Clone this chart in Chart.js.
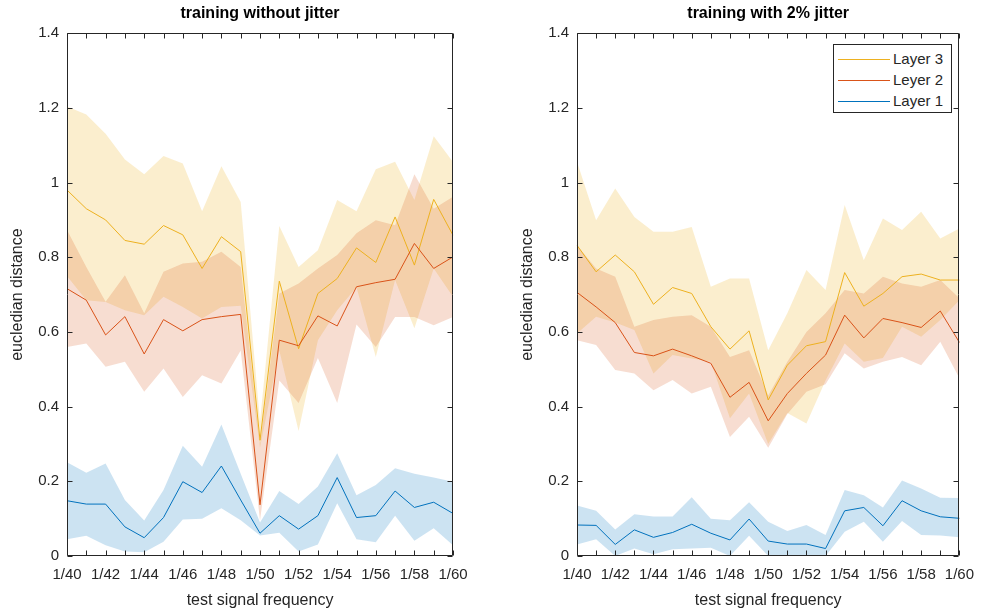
<!DOCTYPE html>
<html>
<head>
<meta charset="utf-8">
<script src="https://cdn.jsdelivr.net/npm/chart.js@4.4.1/dist/chart.umd.min.js"></script>
<style>
  body { margin: 0; background: #fff; width: 984px; height: 614px; overflow: hidden; position: relative; font-family: 'Liberation Sans', Arial, sans-serif; }
  canvas { position: absolute; top: 0; }
  #c1 { left: 0; }
  #c2 { left: 492px; }
  #legend { position: absolute; left: 833px; top: 44px; width: 117px; height: 67px; border: 1px solid #262626; background: #fff; }
  .row { position: absolute; left: 0; height: 20px; font-size: 15px; color: #262626; line-height: 20px; }
  .row span.ln { position: absolute; left: 4px; top: 10px; width: 52px; height: 0; border-top: 1px solid; }
  .row span.tx { position: absolute; left: 59px; top: 0; white-space: nowrap; }
</style>
</head>
<body>
<canvas id="c1" width="492" height="614"></canvas>
<canvas id="c2" width="492" height="614"></canvas>
<div id="legend">
  <div class="row" style="top:4px"><span class="ln" style="border-color:#EDB120"></span><span class="tx">Layer 3</span></div>
  <div class="row" style="top:25px"><span class="ln" style="border-color:#D95319"></span><span class="tx">Leyer 2</span></div>
  <div class="row" style="top:46px"><span class="ln" style="border-color:#0072BD"></span><span class="tx">Layer 1</span></div>
</div>
<script>
// test signal frequencies 1/40 .. 1/60
const freqLabels = ['1/40','1/41','1/42','1/43','1/44','1/45','1/46','1/47','1/48','1/49','1/50',
                    '1/51','1/52','1/53','1/54','1/55','1/56','1/57','1/58','1/59','1/60'];
const yTicks = [0, 0.2, 0.4, 0.6, 0.8, 1, 1.2, 1.4];

// training without jitter
const noJit3 = [0.98,0.93,0.90,0.845,0.835,0.885,0.86,0.77,0.855,0.815,0.31,0.736,0.555,0.703,0.743,0.825,0.786,0.908,0.779,0.955,0.859];
const noJit3Hi = [1.204,1.182,1.131,1.062,1.022,1.071,1.051,0.923,1.044,0.948,0.36,0.884,0.774,0.819,0.953,0.923,1.036,1.056,0.953,1.124,1.055];
const noJit3Lo = [0.75,0.685,0.68,0.658,0.645,0.694,0.667,0.636,0.667,0.67,0.29,0.55,0.335,0.578,0.658,0.72,0.533,0.739,0.61,0.77,0.694];
const noJit2 = [0.716,0.685,0.592,0.641,0.541,0.633,0.603,0.633,0.641,0.647,0.137,0.578,0.563,0.643,0.616,0.721,0.732,0.741,0.837,0.77,0.801];
const noJit2Hi = [0.873,0.774,0.681,0.752,0.650,0.761,0.783,0.788,0.815,0.774,0.30,0.703,0.73,0.77,0.806,0.864,0.899,0.886,1.022,0.93,0.962];
const noJit2Lo = [0.56,0.569,0.507,0.52,0.44,0.502,0.426,0.484,0.462,0.55,0.096,0.47,0.41,0.53,0.41,0.62,0.56,0.64,0.64,0.618,0.64];
const noJit1 = [0.148,0.139,0.139,0.078,0.049,0.103,0.199,0.17,0.241,0.15,0.061,0.108,0.072,0.108,0.21,0.103,0.108,0.174,0.13,0.144,0.114];
const noJit1Hi = [0.251,0.223,0.248,0.15,0.095,0.177,0.295,0.239,0.352,0.22,0.09,0.174,0.139,0.186,0.275,0.163,0.19,0.235,0.22,0.21,0.199];
const noJit1Lo = [0.045,0.054,0.029,0.012,0.01,0.038,0.098,0.1,0.128,0.096,0.055,0.062,0.012,0.031,0.141,0.045,0.037,0.108,0.041,0.074,0.029];

// training with 2% jitter
const jit3 = [0.832,0.761,0.806,0.761,0.674,0.719,0.703,0.614,0.554,0.603,0.418,0.511,0.563,0.574,0.759,0.669,0.703,0.748,0.755,0.739,0.739];
const jit3Hi = [1.056,0.899,0.984,0.908,0.868,0.868,0.881,0.721,0.743,0.743,0.551,0.65,0.766,0.712,0.94,0.792,0.904,0.873,0.922,0.85,0.877];
const jit3Lo = [0.596,0.641,0.625,0.605,0.489,0.538,0.529,0.52,0.369,0.435,0.30,0.383,0.355,0.47,0.569,0.52,0.53,0.614,0.587,0.632,0.685];
const jit2 = [0.706,0.667,0.625,0.545,0.536,0.554,0.536,0.516,0.425,0.465,0.362,0.435,0.489,0.538,0.645,0.584,0.636,0.625,0.612,0.656,0.572];
const jit2Hi = [0.832,0.77,0.748,0.614,0.632,0.641,0.645,0.614,0.533,0.551,0.43,0.52,0.60,0.65,0.712,0.703,0.748,0.73,0.721,0.739,0.69];
const jit2Lo = [0.578,0.565,0.498,0.489,0.444,0.471,0.435,0.453,0.319,0.373,0.29,0.38,0.44,0.46,0.543,0.502,0.52,0.533,0.511,0.574,0.476];
const jit1 = [0.083,0.082,0.031,0.07,0.05,0.063,0.085,0.061,0.043,0.099,0.04,0.032,0.032,0.02,0.121,0.13,0.081,0.148,0.121,0.105,0.101];
const jit1Hi = [0.135,0.121,0.071,0.112,0.106,0.106,0.157,0.10,0.096,0.144,0.092,0.067,0.083,0.056,0.177,0.163,0.13,0.202,0.181,0.156,0.155];
const jit1Lo = [0.031,0.045,0,0.02,0.005,0.018,0.02,0.022,0,0.054,0,0,0,0,0.065,0.092,0.038,0.094,0.056,0.055,0.05];

const axisColor = '#262626';
const fontFam = "'Liberation Sans', Arial, sans-serif";

// matlab style: box round the axes, ticks pointing inwards
const boxTicks = {
  id: 'boxTicks',
  afterDraw(chart) {
    const { ctx, chartArea: a, scales: { x, y } } = chart;
    const L = Math.round(a.left) + 0.5, R = Math.round(a.right) - 0.5;
    const T = Math.round(a.top) + 0.5, B = Math.round(a.bottom) - 0.5;
    ctx.save();
    ctx.strokeStyle = axisColor;
    ctx.lineWidth = 1;
    ctx.beginPath();
    x.ticks.forEach((t, i) => {
      const px = Math.round(x.getPixelForTick(i)) + 0.5;
      ctx.moveTo(px, B); ctx.lineTo(px, B - 5);
      ctx.moveTo(px, T); ctx.lineTo(px, T + 5);
    });
    y.ticks.forEach((t, i) => {
      const py = Math.round(y.getPixelForTick(i)) + 0.5;
      ctx.moveTo(L, py); ctx.lineTo(L + 5, py);
      ctx.moveTo(R, py); ctx.lineTo(R - 5, py);
    });
    ctx.rect(L, T, R - L, B - T);
    ctx.stroke();
    ctx.restore();
  }
};

function band(hi, lo, color) {
  return [
    { data: hi, fill: '+1', backgroundColor: color, borderWidth: 0, borderColor: 'transparent', pointRadius: 0 },
    { data: lo, fill: false, borderWidth: 0, borderColor: 'transparent', pointRadius: 0 }
  ];
}
function mean(data, color) {
  return { data: data, fill: false, borderColor: color, borderWidth: 1, pointRadius: 0, tension: 0 };
}

function makeChart(id, title, s, yAxisWidth, yTitlePad, rightPad) {
  const ctx = document.getElementById(id).getContext('2d');
  return new Chart(ctx, {
    type: 'line',
    data: {
      labels: freqLabels,
      datasets: [
        ...band(s.hi1, s.lo1, 'rgba(0,114,189,0.2)'),
        ...band(s.hi2, s.lo2, 'rgba(217,83,25,0.2)'),
        ...band(s.hi3, s.lo3, 'rgba(237,177,32,0.22)'),
        mean(s.m1, '#0072BD'),
        mean(s.m2, '#D95319'),
        mean(s.m3, '#EDB120')
      ]
    },
    options: {
      responsive: false,
      animation: false,
      events: [],
      layout: { padding: { left: 0, right: rightPad, top: 0, bottom: 0 } },
      plugins: {
        legend: { display: false },
        tooltip: { enabled: false },
        filler: { drawTime: 'beforeDatasetsDraw' },
        title: {
          display: true, text: title, fullSize: false, color: '#000',
          font: { family: fontFam, size: 16, weight: 'bold' },
          padding: { top: 4, bottom: 10 }
        }
      },
      scales: {
        x: {
          type: 'category',
          offset: false,
          grid: { display: false, drawTicks: false },
          border: { display: false },
          ticks: {
            autoSkip: false, maxRotation: 0, color: axisColor, padding: 10,
            font: { family: fontFam, size: 15 },
            callback: function (v, i) { return i % 2 === 0 ? this.getLabelForValue(v) : ''; }
          },
          title: {
            display: true, text: 'test signal frequency', color: axisColor,
            font: { family: fontFam, size: 16 }, padding: { top: 0, bottom: 4 }
          },
          afterFit: (scale) => { scale.height = 58; }
        },
        y: {
          min: 0, max: 1.4,
          grid: { display: false, drawTicks: false },
          border: { display: false },
          afterBuildTicks: (scale) => { scale.ticks = yTicks.map(v => ({ value: v })); },
          ticks: {
            color: axisColor, padding: 8, font: { family: fontFam, size: 15 },
            callback: (v) => String(+v.toFixed(1))
          },
          title: {
            display: true, text: 'eucledian distance', color: axisColor,
            font: { family: fontFam, size: 16 }, padding: { top: yTitlePad, bottom: 0 }
          },
          afterFit: (scale) => { scale.width = yAxisWidth; }
        }
      }
    },
    plugins: [boxTicks]
  });
}

makeChart('c1', 'training without jitter', {
  m1: noJit1, hi1: noJit1Hi, lo1: noJit1Lo,
  m2: noJit2, hi2: noJit2Hi, lo2: noJit2Lo,
  m3: noJit3, hi3: noJit3Hi, lo3: noJit3Lo
}, 67, 8, 39);

makeChart('c2', 'training with 2% jitter', {
  m1: jit1, hi1: jit1Hi, lo1: jit1Lo,
  m2: jit2, hi2: jit2Hi, lo2: jit2Lo,
  m3: jit3, hi3: jit3Hi, lo3: jit3Lo
}, 85, 26, 21);
</script>
</body>
</html>
